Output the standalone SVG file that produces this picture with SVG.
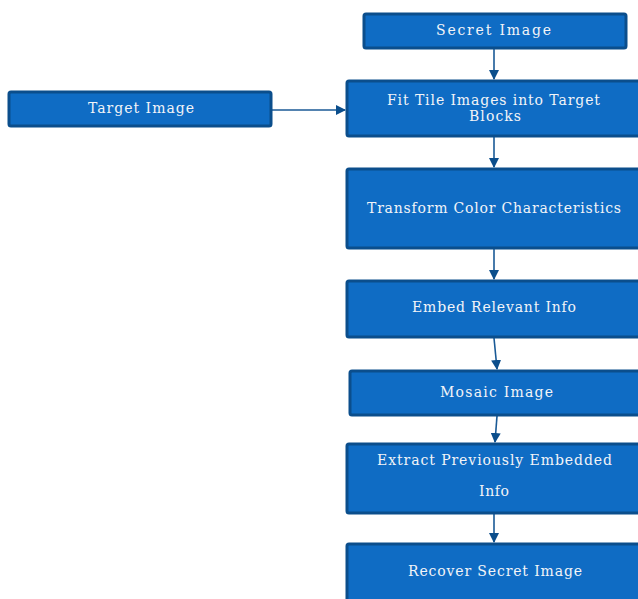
<svg xmlns="http://www.w3.org/2000/svg" width="638" height="599" viewBox="0 0 638 599">
<defs>
<style>
.box{fill:#0F6CC4;stroke:#0B4E8C;stroke-width:3}
.t{font-family:"DejaVu Serif","Liberation Serif",serif;font-size:14px;fill:#F2F4F8;text-anchor:middle}
.c{stroke:#1A5A96;stroke-width:1.6;fill:none}
</style>
<marker id="ah" markerWidth="10" markerHeight="10" refX="9" refY="5" orient="auto" markerUnits="userSpaceOnUse">
<path d="M0,0 L10,5 L0,10 Z" fill="#0B4E8C"/>
</marker>
</defs>
<rect width="638" height="599" fill="#FFFFFF"/>
<g id="connectors">
<line class="c" x1="494" y1="48" x2="494" y2="79" marker-end="url(#ah)"/>
<line class="c" x1="272" y1="110" x2="345" y2="110" marker-end="url(#ah)"/>
<line class="c" x1="494" y1="137" x2="494" y2="167" marker-end="url(#ah)"/>
<line class="c" x1="494" y1="249" x2="494" y2="279" marker-end="url(#ah)"/>
<line class="c" x1="494" y1="338" x2="497" y2="369" marker-end="url(#ah)"/>
<line class="c" x1="497" y1="416" x2="495" y2="442" marker-end="url(#ah)"/>
<line class="c" x1="494" y1="514" x2="494" y2="542" marker-end="url(#ah)"/>
</g>
<g id="secret">
<rect class="box" x="364" y="14" width="262" height="34" rx="2"/>
<text class="t" x="493.5" y="35" textLength="115" lengthAdjust="spacing">Secret Image</text>
</g>
<g id="target">
<rect class="box" x="9" y="92" width="262" height="34" rx="2"/>
<text class="t" x="141" y="113" textLength="106" lengthAdjust="spacing">Target Image</text>
</g>
<g id="fit">
<rect class="box" x="347" y="81" width="300" height="55" rx="2"/>
<text class="t" x="493.5" y="105" textLength="213" lengthAdjust="spacing">Fit Tile Images into Target</text>
<text class="t" x="495" y="121" textLength="52" lengthAdjust="spacing">Blocks</text>
</g>
<g id="transform">
<rect class="box" x="347" y="169" width="300" height="79" rx="2"/>
<text class="t" x="494" y="213" textLength="254" lengthAdjust="spacing">Transform Color Characteristics</text>
</g>
<g id="embed">
<rect class="box" x="347" y="281" width="300" height="56" rx="2"/>
<text class="t" x="494" y="312" textLength="164" lengthAdjust="spacing">Embed Relevant Info</text>
</g>
<g id="mosaic">
<rect class="box" x="350" y="371" width="300" height="44" rx="2"/>
<text class="t" x="496.5" y="397" textLength="113" lengthAdjust="spacing">Mosaic Image</text>
</g>
<g id="extract">
<rect class="box" x="347" y="444" width="300" height="69" rx="2"/>
<text class="t" x="494.5" y="465" textLength="235" lengthAdjust="spacing">Extract Previously Embedded</text>
<text class="t" x="494" y="496" textLength="30" lengthAdjust="spacing">Info</text>
</g>
<g id="recover">
<rect class="box" x="347" y="544" width="300" height="70" rx="2"/>
<text class="t" x="495" y="576" textLength="174" lengthAdjust="spacing">Recover Secret Image</text>
</g>
</svg>
